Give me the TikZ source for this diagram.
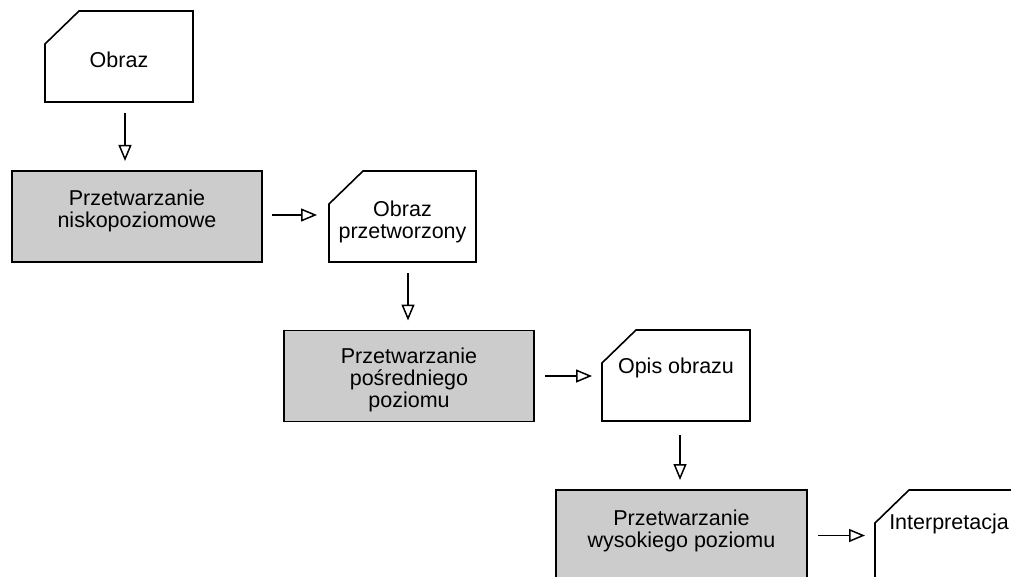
\documentclass[tikz,border=0pt]{standalone}
\usepackage{fontspec}
\setmainfont{Liberation Sans}
\usetikzlibrary{arrows.meta}
\definecolor{procgray}{RGB}{204,204,204}
\tikzset{
  procbox/.style={draw=black, fill=procgray, line width=1.6pt,
    minimum width=250pt, minimum height=91pt, inner sep=0pt, outer sep=0pt},
  databox/.style={minimum width=148pt, minimum height=91pt,
    inner sep=0pt, outer sep=0pt},
  cardline/.style={draw=black, fill=white, line width=1.6pt, line join=miter},
  lbl/.style={font=\fontsize{21.5pt}{22pt}\selectfont, align=center,
    anchor=base, inner sep=0pt},
  flow/.style={-{Triangle[open, length=16pt, width=13pt]}, line width=1.5pt},
}
% data card: rectangle with the top-left corner cut off
\newcommand{\datacard}[1]{%
  \path[cardline] ([yshift=-33pt]#1.north west) -- ([xshift=34pt]#1.north west)
    -- (#1.north east) -- (#1.south east) -- (#1.south west) -- cycle;}
\begin{document}
\begin{tikzpicture}[x=1pt,y=-1pt]
\path[use as bounding box] (0,0) rectangle (1011,577);
\clip (0,0) rectangle (1011,577);

% stage shapes
\node[databox] (c1) at (119,56.5) {};
\node[procbox] (b1) at (137,216.5) {};
\node[databox, minimum width=147pt] (c2) at (402.5,216.5) {};
\node[procbox] (b2) at (409,376) {};
\node[databox] (c3) at (676,375.5) {};
\node[procbox, minimum width=251pt] (b3) at (681.5,535.5) {};
\node[databox] (c4) at (949,535.5) {};

\datacard{c1}
\datacard{c2}
\datacard{c3}
\datacard{c4}

% texts (anchored at the baseline of the last line)
\node[lbl] (t1) at ([yshift=-57pt]c1.north) {Obraz};
\node[lbl] (t2) at ([yshift=-57pt]b1.north) {Przetwarzanie\\niskopoziomowe};
\node[lbl] (t3) at ([yshift=-68pt]c2.north) {Obraz\\przetworzony};
\node[lbl] (t4) at ([yshift=-77pt]b2.north) {Przetwarzanie\\pośredniego\\poziomu};
\node[lbl] (t5) at ([yshift=-43pt]c3.north) {Opis obrazu};
\node[lbl] (t6) at ([yshift=-57pt]b3.north) {Przetwarzanie\\wysokiego poziomu};
\node[lbl] (t7) at ([yshift=-39pt]c4.north) {Interpretacja};

% flow arrows
\draw[flow, shorten <=11pt, shorten >=10pt]
  ([xshift=6pt]c1.south) -- ([xshift=6pt]c1.south |- b1.north);
\draw[flow, shorten <=10pt, shorten >=12pt]
  ([yshift=1.5pt]b1.east) -- ([yshift=1.5pt]b1.east -| c2.west);
\draw[flow, shorten <=11pt, shorten >=10pt]
  ([xshift=5.5pt]c2.south) -- ([xshift=5.5pt]c2.south |- b2.north);
\draw[flow, shorten <=11pt, shorten >=10pt]
  (b2.east) -- (b2.east -| c3.west);
\draw[flow, shorten <=14pt, shorten >=10pt]
  ([xshift=4pt]c3.south) -- ([xshift=4pt]c3.south |- b3.north);
\draw[flow, shorten <=11pt, shorten >=10pt]
  (b3.east) -- (b3.east -| c4.west);
\end{tikzpicture}
\end{document}
